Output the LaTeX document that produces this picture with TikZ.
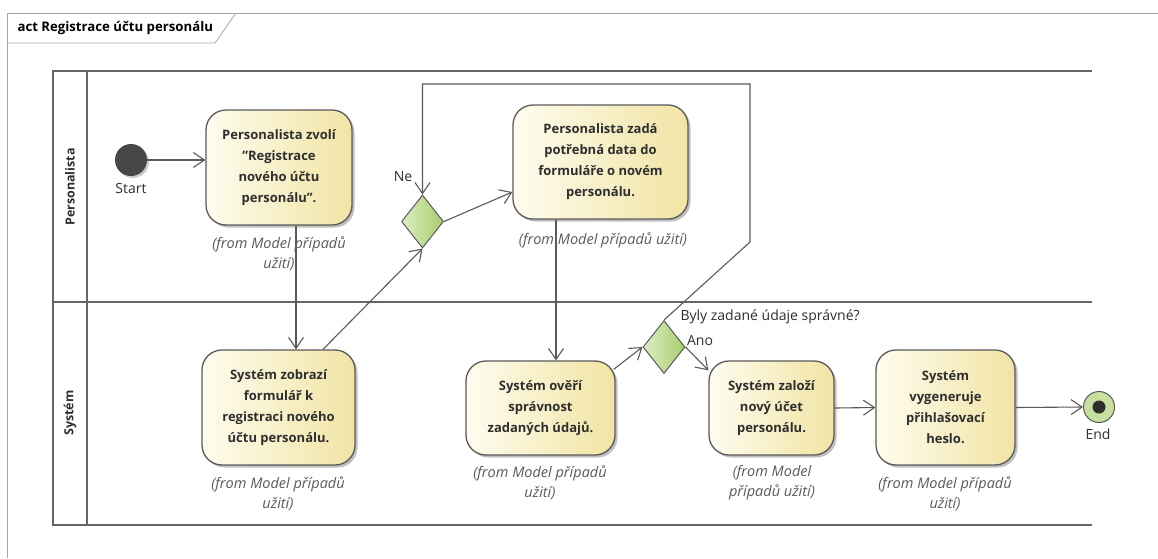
\documentclass[tikz,border=0pt]{standalone}
\usepackage{fontspec}
\setmainfont{Open Sans}
\usetikzlibrary{shapes.geometric,arrows.meta,shadows}
\definecolor{lanegray}{HTML}{666666}
\definecolor{framegray}{HTML}{A8A8A8}
\definecolor{linkgray}{HTML}{5A5A5A}
\definecolor{textdark}{HTML}{2E2E2E}
\definecolor{actleft}{HTML}{FEFCEE}
\definecolor{actright}{HTML}{F1E4A4}
\definecolor{decleft}{HTML}{DDEDC4}
\definecolor{decright}{HTML}{A6CD6A}
\tikzset{
  action/.style={draw=linkgray, line width=1.3pt, rounded corners=20pt,
    left color=actleft, right color=actright, text=textdark,
    font=\bfseries\fontsize{13}{21}\selectfont, align=center, inner sep=0pt,
    drop shadow={shadow xshift=2.5pt, shadow yshift=-2.5pt, opacity=0.25, fill=black}},
  decision/.style={diamond, draw=linkgray, line width=1pt, left color=decleft,
    right color=decright, inner sep=0pt, minimum width=42pt, minimum height=53pt},
  caption/.style={text=linkgray, font=\itshape\fontsize{14.5}{20}\selectfont, align=center},
  plain/.style={text=textdark, font=\fontsize{14}{16}\selectfont},
  flow/.style={draw=linkgray, line width=1.1pt,
    -{Straight Barb[length=11pt,width=15pt,line width=1.1pt]}},
  lane/.style={draw=lanegray, line width=2pt},
  lanelabel/.style={rotate=90, text=textdark, font=\bfseries\fontsize{12.5}{14}\selectfont},
}
\begin{document}
\begin{tikzpicture}[x=1pt,y=-1pt]
\useasboundingbox (0,0) rectangle (1158,558);
\fill[white] (0,0) rectangle (1158,558);

% diagram frame and its name tab
\draw[framegray, line width=0.8pt] (7,558) -- (7,13) -- (1158,13);
\draw[framegray, line width=0.8pt] (7,43) -- (215,43) -- (236,13);
\node[anchor=west, text=black, font=\bfseries\fontsize{13.2}{15}\selectfont] (title) at (14,28) {act Registrace účtu personálu};

% swimlanes
\draw[lane] (1092,71) -- (53,71) -- (53,525) -- (1092,525);
\draw[lane] (53,302) -- (1092,302);
\draw[lane] (87,71) -- (87,525);
\node[lanelabel] (lanep) at (70,187) {Personalista};
\node[lanelabel] (lanes) at (70,413) {Systém};

% initial and final nodes
\node[circle, fill=black!72, minimum size=32pt, inner sep=0pt,
  drop shadow={shadow xshift=2pt, shadow yshift=-2pt, opacity=0.2, fill=black}] (start) at (131,160) {};
\node[plain] (startlbl) at (131,188) {Start};
\node[circle, draw=linkgray, line width=1pt, fill=decleft!60!decright, minimum size=31pt, inner sep=0pt] (end) at (1099,407) {};
\node[circle, fill=textdark, minimum size=13pt, inner sep=0pt] (enddot) at (1099,407) {};
\node[plain] (endlbl) at (1098,434) {End};

% actions
\node[action, minimum width=146pt, minimum height=115pt] (a) at (279,167.5)
  {Personalista zvolí\\\symbol{"22}Registrace\\nového účtu\\personálu\symbol{"22}.};
\node[caption] (ac) at (279,254) {(from Model případů\\užití)};

\node[action, minimum width=175pt, minimum height=114pt] (b) at (600.5,162)
  {Personalista zadá\\potřebná data do\\formuláře o novém\\personálu.};
\node[caption] (bc) at (603,240) {(from Model případů užití)};

\node[action, minimum width=153pt, minimum height=115pt] (c) at (278.5,407.5)
  {Systém zobrazí\\formulář k\\registraci nového\\účtu personálu.};
\node[caption] (cc) at (278,493.5) {(from Model případů\\užití)};

\node[action, minimum width=149pt, minimum height=94pt] (d) at (540.5,408)
  {Systém ověří\\správnost\\zadaných údajů.};
\node[caption] (dc) at (540,483) {(from Model případů\\užití)};

\node[action, minimum width=125pt, minimum height=94pt] (e) at (771.5,408)
  {Systém založí\\nový účet\\personálu.};
\node[caption] (ec) at (772,483) {(from Model\\případů užití)};

\node[action, minimum width=139pt, minimum height=115pt] (f) at (945.5,407.5)
  {Systém\\vygeneruje\\přihlašovací\\heslo.};
\node[caption] (fc) at (945,494) {(from Model případů\\užití)};

% decisions
\node[decision] (d1) at (422.5,221.5) {};
\node[plain] (nelbl) at (403,177) {Ne};
\node[decision] (d2) at (664,347) {};
\node[plain, anchor=west] (q) at (677,317) {Byly zadané údaje správné?};
\node[plain] (anolbl) at (700,341) {Ano};

% control flows
\draw[flow] (start) -- (a.west |- start);
\draw[flow] ([xshift=17pt]a.south) -- ([xshift=17pt]a.south |- c.north);
\draw[flow] ([xshift=44.5pt]c.north) -- (d1.south);
\draw[flow] (d1.east) -- ([yshift=-30pt]b.west);
\draw[flow] ([xshift=-44.5pt]b.south) -- ([xshift=-44.5pt]b.south |- d.north);
\draw[flow] ([shift={(-2pt,-9pt)}]d.north east) -- (d2.west);
\draw[flow] (d2.east) -- ([yshift=-10pt]e.north west);
\draw[flow] (e.east) -- (f.west);
\draw[flow] (f.east) -- (end.west);
\coordinate (loopa) at (750,242);
\coordinate (loopb) at (750,84);
\draw[flow] (d2.north) -- (loopa) -- (loopb) -| (d1.north);
\end{tikzpicture}
\end{document}
